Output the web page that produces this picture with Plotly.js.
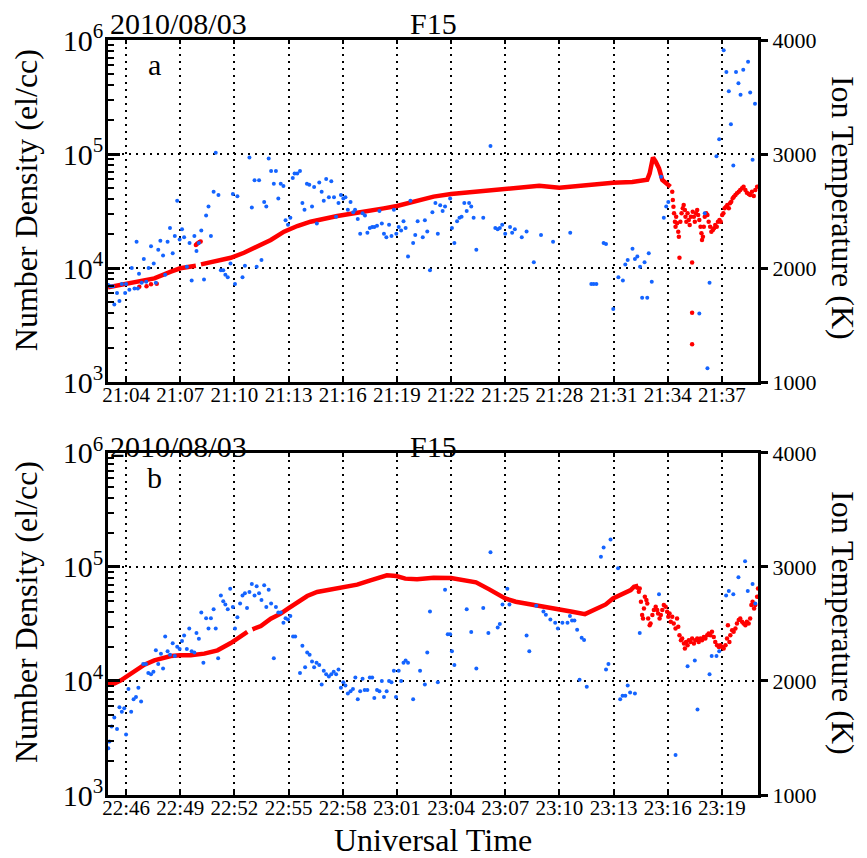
<!DOCTYPE html>
<html><head><meta charset="utf-8">
<script src="https://cdn.plot.ly/plotly-3.0.1.min.js"></script>
<style>html,body{margin:0;padding:0;background:#fff}#chart{width:867px;height:858px}</style>
</head><body><div id="chart"></div>
<script>
const DAY = '2010-08-03 ';
const dateLabel = '2010/08/03';
const satellite = 'F15';

// ---------- Panel a (21:03 - 21:39 UT) ----------
// density, smooth part (el/cc)
const aLineT = ['21:03:00','21:04:00','21:04:39','21:05:34','21:06:29','21:07:00','21:07:52','21:08:00','21:08:09','21:08:53',
  '21:09:48','21:10:32','21:11:16','21:12:01','21:12:45','21:13:29','21:14:13','21:14:57','21:15:42','21:16:48',
  '21:17:32','21:18:16','21:19:00','21:19:44','21:20:29','21:21:02','21:22:00','21:23:34','21:25:00','21:26:53',
  '21:28:00','21:29:17','21:30:58','21:32:02','21:32:52','21:33:00','21:33:11','21:33:20','21:33:31','21:33:42',
  '21:33:55','21:34:09'];
const aLineN = [6760,7240,7590,8110,9290,9940,10470,null,10770,11350,
  12300,13610,15370,17610,20840,23350,25470,27050,28560,30530,
  31600,33360,34970,37420,40060,42290,44570,46730,48980,52720,
  50720,53080,56070,56800,59540,67600,93500,85700,74830,59190,
  55350,51670];
// density, scattered samples
const aDotT = ['21:04:44','21:05:08','21:05:23','21:05:42','21:07:52','21:07:56','21:08:00','21:08:04','21:08:08',
  '21:34:15','21:34:17','21:34:19','21:34:21','21:34:24','21:34:26','21:34:28','21:34:31','21:34:35','21:34:37',
  '21:34:39','21:34:42','21:34:46','21:34:50','21:34:53','21:34:57','21:34:59','21:35:02','21:35:06','21:35:10',
  '21:35:13','21:35:17','21:35:21','21:35:21','21:35:21','21:35:23','21:35:27','21:35:30','21:35:34','21:35:38',
  '21:35:41','21:35:45','21:35:49','21:35:52','21:35:54','21:35:57','21:36:00','21:36:03','21:36:08','21:36:12',
  '21:36:16','21:36:21','21:36:25','21:36:30','21:36:34','21:36:38','21:36:43','21:36:47','21:36:52','21:36:56',
  '21:37:01','21:37:05','21:37:09','21:37:14','21:37:18','21:37:23','21:37:27','21:37:31','21:37:36','21:37:40',
  '21:37:45','21:37:50','21:37:56','21:38:01','21:38:07','21:38:12','21:38:18','21:38:23','21:38:29','21:38:34',
  '21:38:40','21:38:46','21:38:51','21:38:57'];
const aDotN = [6860,6930,7210,7290,15900,16300,16600,16900,17100,
  46740,39460,34490,30170,25490,23050,28210,24640,20830,18830,
  12330,25490,30170,33370,35700,32290,28210,25490,30170,26360,
  23840,28210,11150,4060,2140,31200,28210,25490,30170,32290,
  29180,26360,23050,20140,17610,18830,23050,28210,30170,29180,
  25490,23050,20830,21540,22290,23840,23050,25490,26360,25490,
  29180,30170,33370,34490,35700,33370,36900,38160,40860,42240,
  43680,45170,46740,48310,49960,51670,48310,45810,44600,43680,
  46740,42830,48310,51670];
// ion temperature (K)
const aTempT = ['21:03:01','21:03:08','21:03:16','21:03:21','21:03:30','21:03:38','21:03:46','21:03:57','21:04:00','21:04:11',
  '21:04:19','21:04:28','21:04:35','21:04:39','21:04:43','21:04:52','21:04:59','21:05:07','21:05:15','21:05:23',
  '21:05:32','21:05:39','21:05:47','21:05:54','21:06:03','21:06:10','21:06:18','21:06:26','21:06:35','21:06:42',
  '21:06:50','21:06:58','21:07:06','21:07:13','21:07:22','21:07:31','21:07:38','21:07:47','21:07:54','21:08:02',
  '21:08:10','21:08:19','21:08:26','21:08:34','21:08:42','21:08:51','21:08:58','21:09:07','21:09:15','21:09:23',
  '21:09:30','21:09:38','21:09:47','21:09:55','21:10:02','21:10:10','21:10:27','21:10:35','21:10:50','21:10:58',
  '21:11:07','21:11:14','21:11:22','21:11:30','21:11:39','21:11:46','21:11:54','21:12:02','21:12:11','21:12:18',
  '21:12:26','21:12:34','21:12:43','21:12:50','21:12:58','21:13:06','21:13:14','21:13:20','21:13:29','21:13:38',
  '21:13:46','21:13:53','21:14:01','21:14:09','21:14:18','21:14:25','21:14:34','21:14:42','21:14:50','21:14:57',
  '21:15:05','21:15:14','21:15:22','21:15:31','21:15:38','21:15:46','21:15:54','21:16:02','21:16:09','21:16:17',
  '21:16:26','21:16:35','21:16:41','21:16:50','21:16:58','21:17:06','21:17:14','21:17:22','21:17:30','21:17:38',
  '21:17:45','21:17:54','21:18:02','21:18:10','21:18:17','21:18:25','21:18:34','21:18:42','21:18:50','21:18:58',
  '21:19:06','21:19:14','21:19:22','21:19:29','21:19:37','21:19:45','21:19:54','21:20:01','21:20:09','21:20:26',
  '21:20:33','21:20:41','21:20:50','21:20:58',
  '21:21:08','21:21:16','21:21:24','21:21:32','21:21:40','21:21:57','21:22:03','21:22:11','21:22:20','21:22:28',
  '21:22:35','21:22:44','21:22:52','21:23:00','21:23:07','21:23:15','21:23:24','21:23:47','21:24:11','21:24:27',
  '21:24:35','21:24:42','21:24:50','21:25:00','21:25:16','21:25:23','21:25:32','21:25:55','21:26:11','21:26:35',
  '21:26:59','21:27:39','21:28:36','21:29:46','21:29:54','21:30:03','21:30:27','21:30:35','21:30:59','21:31:16',
  '21:31:31','21:31:39','21:31:47','21:32:03','21:32:11','21:32:19','21:32:28','21:32:35','21:32:43','21:32:52',
  '21:32:57','21:33:07','21:33:38','21:33:47','21:33:55','21:34:02','21:35:45','21:36:03','21:36:12','21:36:19',
  '21:36:42','21:36:51','21:37:06','21:37:15','21:37:23','21:37:30','21:37:38','21:37:47','21:37:55','21:38:02',
  '21:38:11','21:38:27','21:38:34','21:38:42','21:38:50'];
const aTempK = [1850,1840,1840,1680,1780,1710,1860,1780,1860,1810,
  2000,1820,2230,1820,1950,1870,2080,1880,2000,2190,
  2040,1870,2160,2240,2110,1940,2230,2350,2130,2280,
  2590,2250,2340,2270,2010,2220,1890,2280,2150,2220,
  2330,1900,2460,2540,2280,2670,3010,2640,1980,1980,
  1940,1920,2040,2650,1860,2630,1920,2020,2970,2530,
  2770,2010,2770,2070,2580,2540,2960,2850,2740,2850,
  2610,2740,2720,2420,2380,2440,2790,2830,2830,2850,
  2570,2510,2740,2730,2540,2710,2390,2750,2670,2590,
  2780,2620,2760,2620,2450,2570,2640,2610,2620,2510,
  2580,2490,2510,2430,2300,2480,2460,2310,2350,2360,
  2360,2370,2500,2390,2300,2270,2380,2280,2510,2300,
  2360,2330,2410,2350,2100,2590,2220,2290,2410,2270,
  2420,2320,1980,2490,
  2570,2300,2550,2500,2540,2610,2350,2220,2410,2440,
  2450,2570,2500,2570,2540,2440,2160,2440,3070,2350,
  2340,2350,2380,2300,2360,2310,2340,2270,2320,2050,
  2290,2230,2310,1860,1860,1860,2220,2210,1640,1920,
  1890,2030,2070,2170,2080,2100,2010,1740,2050,1740,
  2130,1880,2800,2440,2540,2580,1600,2480,1120,1870,
  2980,3130,3910,3720,3550,3260,2900,3720,3620,3520,
  3740,3810,3540,2950,3440];

// ---------- Panel b (22:45 - 23:21 UT) ----------
const bLineT = ['22:45:00','22:45:21','22:45:43','22:46:00','22:46:17','22:46:39','22:47:01','22:47:34','22:48:07','22:48:29',
  '22:49:00','22:49:35','22:50:20','22:51:04','22:51:48','22:52:21','22:52:43','22:52:50','22:53:00','22:53:28',
  '22:54:01','22:54:34','22:54:58','22:55:29','22:56:02','22:56:35','22:57:20','22:57:58','22:58:48','22:59:32',
  '23:00:05','23:00:27','23:00:58','23:01:28','23:02:07','23:03:02','23:04:00','23:04:39','23:05:23','23:06:07',
  '23:07:00','23:07:35','23:08:20','23:09:04','23:09:59','23:10:43','23:11:25','23:12:01','23:12:34','23:12:58',
  '23:13:29','23:13:57','23:14:08','23:14:22'];
const bLineN = [9360,9480,10130,10840,11590,12650,13900,15180,16130,16570,
  16790,16790,17370,18580,21540,24820,26920,null,28400,30380,
  35230,38980,43160,49350,55660,60380,63270,65480,69990,76400,
  82280,84500,83400,79050,78000,80600,79960,77450,73300,63630,
  53000,49540,46960,44800,42150,40480,38610,42690,46960,53000,
  57870,62770,67150,68490];
const bDotT = ['23:14:19','23:14:24','23:14:27','23:14:31','23:14:35','23:14:38','23:14:41','23:14:44','23:14:49','23:14:52',
  '23:14:55','23:15:00','23:15:03','23:15:09','23:15:14','23:15:20','23:15:25','23:15:28','23:15:33','23:15:37',
  '23:15:42','23:15:47','23:15:53','23:15:58','23:16:02','23:16:06','23:16:10','23:16:15','23:16:20','23:16:26',
  '23:16:31','23:16:35','23:16:39','23:16:44','23:16:48','23:16:54','23:16:57','23:17:01','23:17:06','23:17:10',
  '23:17:16','23:17:21','23:17:27','23:17:32','23:17:38','23:17:43','23:17:49','23:17:54','23:18:00','23:18:05',
  '23:18:11','23:18:16','23:18:22','23:18:27','23:18:33','23:18:38','23:18:44','23:18:50','23:18:55','23:19:01',
  '23:19:06','23:19:12','23:19:17','23:19:20','23:19:25','23:19:28','23:19:34','23:19:39','23:19:45','23:19:50',
  '23:19:56','23:20:01','23:20:07','23:20:12','23:20:18','23:20:23','23:20:29','23:20:34','23:20:38','23:20:42',
  '23:20:47','23:20:51','23:20:57','23:21:00'];
const bDotN = [65770,60690,64890,49540,37850,35350,43270,54830,51250,47860,
  35350,30900,31930,37850,41870,44770,41870,39070,35350,37850,
  41870,46370,44770,40440,36560,39070,33040,36560,31930,28850,
  35350,29850,25230,22800,23560,21280,19230,22030,20600,22800,
  22030,23560,21280,22800,23560,22030,23560,22800,24370,23560,
  25230,26080,25230,26970,24370,22030,20600,19910,20600,19910,
  19230,20600,23560,30900,22030,25230,27930,26970,28850,31930,
  34200,35350,33040,31930,30900,33040,31930,35350,46370,49540,
  43270,46370,54830,64890];
const bTempT = ['22:45:01','22:45:05','22:45:12','22:45:21','22:45:30','22:45:38','22:45:46','22:45:54','22:46:00','22:46:08',
  '22:46:17','22:46:25','22:46:33','22:46:41','22:46:50','22:46:57','22:47:06','22:47:14','22:47:23','22:47:31',
  '22:47:39','22:47:47','22:47:56','22:48:03','22:48:10','22:48:18','22:48:26','22:48:35','22:48:42','22:48:50',
  '22:48:58','22:49:06','22:49:13','22:49:22','22:49:30','22:49:38','22:49:47','22:49:54','22:50:02','22:50:10',
  '22:50:17','22:50:26','22:50:34','22:50:42','22:50:51','22:50:58','22:51:06','22:51:15','22:51:23','22:51:30',
  '22:51:38','22:51:46','22:51:55','22:52:02','22:52:10','22:52:19','22:52:27','22:52:35','22:52:42','22:52:50',
  '22:52:58','22:53:07','22:53:14','22:53:22','22:53:30','22:53:39','22:53:46','22:53:54','22:54:02','22:54:11',
  '22:54:18','22:54:26','22:54:34','22:54:43','22:54:50','22:54:58','22:55:06','22:55:15','22:55:22','22:55:38',
  '22:55:46','22:55:55','22:56:02','22:56:10','22:56:18','22:56:25','22:56:33','22:56:42','22:56:50','22:56:57',
  '22:57:05','22:57:14','22:57:22','22:57:30','22:57:38','22:57:46','22:57:54','22:58:02','22:58:09','22:58:17',
  '22:58:26','22:58:34','22:58:42','22:58:50','22:58:58','22:59:06','22:59:13','22:59:22','22:59:30','22:59:38',
  '22:59:45','22:59:54','23:00:02','23:00:10','23:00:17','23:00:26','23:00:34','23:00:42','23:00:50','23:00:57',
  '23:01:06','23:01:14','23:01:22','23:01:29','23:01:37','23:01:54','23:02:17','23:02:33','23:02:41','23:02:50',
  '23:03:16','23:03:40','23:03:49','23:03:57','23:04:03','23:04:11','23:04:52','23:05:07','23:05:24','23:05:47',
  '23:06:04','23:06:11','23:06:35','23:06:42','23:06:51','23:07:07','23:07:14','23:08:11','23:08:20','23:08:43',
  '23:09:07','23:09:15','23:09:30','23:09:46','23:09:55','23:10:10','23:10:27','23:10:35','23:10:42','23:10:50',
  '23:10:59','23:11:07','23:11:14','23:11:22','23:11:31','23:12:18','23:12:27','23:12:35','23:12:43','23:12:50',
  '23:13:15','23:13:22','23:13:30','23:13:39','23:13:47','23:13:55','23:14:11','23:14:27','23:15:31','23:16:26',
  '23:17:06','23:17:30','23:17:39','23:18:19','23:18:26','23:18:42','23:18:51','23:19:14','23:19:23','23:19:38',
  '23:19:55','23:20:17','23:20:26','23:20:42','23:20:51'];
const bTempK = [1410,1470,1600,1680,1580,1770,1730,1760,1530,1930,
  1730,1840,1860,1940,1820,2150,2150,2070,2060,2080,
  2270,2150,2240,2110,2390,2260,2230,2330,2220,2300,
  2280,2350,2400,2280,2460,2260,2250,2420,2370,2600,
  2160,2550,2460,2550,2630,2460,2200,2750,2700,2670,
  2630,2810,2650,2460,2560,2680,2750,2770,2640,2780,
  2850,2750,2830,2770,2710,2840,2650,2800,2680,2200,
  2650,2600,2600,2510,2550,2540,2570,2390,2390,2070,
  2310,2120,2250,2230,2170,2120,2160,2140,1970,2090,
  2060,2040,2060,2080,2060,2100,1940,1990,1960,1890,
  1910,1930,2030,1840,1910,2020,1920,1920,2030,2030,
  1850,1920,1910,2000,1860,1910,2000,1990,2090,1860,
  2090,2000,2160,2180,2160,1840,2090,1970,2250,2610,
  1990,2800,2410,2410,2260,2140,2630,2430,2110,2640,
  2420,3130,2470,2500,2670,2810,2670,2400,2260,2660,
  2610,2580,2540,2510,2460,2510,2510,2570,2530,2530,
  2450,2010,2380,2360,1950,3090,3170,2100,2150,3240,
  2990,1840,1870,1870,1960,1900,1890,2420,2760,1350,
  2130,2180,1750,2060,2220,2220,2260,2750,2790,2760,
  2910,3050,2790,2850,2680];

const RED = '#ff0000', BLUE = '#1464ff';
const FONT = 'Liberation Serif';
const ts = a => a.map(t => DAY + t);

const traces = [
  {x: ts(aLineT), y: aLineN, xaxis: 'x', yaxis: 'y', mode: 'lines', line: {color: RED, width: 4.5}, connectgaps: false},
  {x: ts(aDotT), y: aDotN, xaxis: 'x', yaxis: 'y', mode: 'markers', marker: {color: RED, size: 4.5}},
  {x: ts(aTempT), y: aTempK, xaxis: 'x', yaxis: 'y2', mode: 'markers', marker: {color: BLUE, size: 4}},
  {x: ts(bLineT), y: bLineN, xaxis: 'x2', yaxis: 'y3', mode: 'lines', line: {color: RED, width: 4.5}, connectgaps: false},
  {x: ts(bDotT), y: bDotN, xaxis: 'x2', yaxis: 'y3', mode: 'markers', marker: {color: RED, size: 4.5}},
  {x: ts(bTempT), y: bTempK, xaxis: 'x2', yaxis: 'y4', mode: 'markers', marker: {color: BLUE, size: 4}}
];

const GRID = {showgrid: true, gridcolor: '#000', gridwidth: 2, griddash: '2px,5px'};
function xAx(anchor, t0, t1, tick0) {
  return Object.assign({type: 'date', anchor: anchor, domain: [0, 1], range: [DAY + t0, DAY + t1],
    tick0: DAY + tick0, dtick: 180000, tickformat: '%H:%M', ticks: 'inside', ticklen: 4, tickwidth: 2,
    tickcolor: '#000', showline: true, linewidth: 3, linecolor: '#000', mirror: 'ticks',
    ticklabelstandoff: -8,
    zeroline: false, tickfont: {size: 21, color: '#000', family: FONT}}, GRID);
}
function logAx(anchor, dom) {
  return Object.assign({type: 'log', anchor: anchor, domain: dom, range: [3, 6], dtick: 1,
    exponentformat: 'power', ticks: 'inside', ticklen: 12, tickwidth: 3, tickcolor: '#000',
    showline: true, linewidth: 3, linecolor: '#000', zeroline: false, ticklabelstandoff: -3,
    minor: {ticks: 'inside', ticklen: 6, tickwidth: 2, tickcolor: '#000', dtick: 'D1', showgrid: false},
    tickfont: {size: 24, color: '#000', family: FONT}}, GRID);
}
function tempAx(anchor, over) {
  return {overlaying: over, side: 'right', anchor: anchor, range: [1000, 4000], dtick: 1000,
    ticks: 'outside', ticklen: 7, tickwidth: 3, tickcolor: '#000', showline: true, linewidth: 3,
    linecolor: '#000', showgrid: false, zeroline: false, tickfont: {size: 22, color: '#000', family: FONT}};
}
function stubLeft(anchor, over) {
  return {overlaying: over, side: 'left', anchor: anchor, type: 'log', range: [3, 6], dtick: 1,
    ticks: 'outside', ticklen: 6, tickwidth: 3, tickcolor: '#000', showticklabels: false,
    showline: false, showgrid: false, zeroline: false};
}
function stubRight(anchor, over) {
  return {overlaying: over, side: 'right', anchor: anchor, range: [1000, 4000], dtick: 1000,
    ticks: 'inside', ticklen: 12, tickwidth: 3, tickcolor: '#000', showticklabels: false,
    showline: false, showgrid: false, zeroline: false};
}

const ann = (text, x, y, size, extra) => Object.assign({text: text, xref: 'paper', yref: 'paper', x: x, y: y,
  xanchor: 'center', yanchor: 'middle', showarrow: false, font: {size: size, color: '#000', family: FONT}}, extra || {});

const layout = {
  width: 867, height: 858,
  margin: {l: 108, r: 109, t: 40, b: 63},
  paper_bgcolor: '#fff', plot_bgcolor: '#fff',
  showlegend: false, hovermode: false,
  font: {family: FONT, color: '#000'},
  xaxis: xAx('y', '21:03:00', '21:39:00', '21:04:00'),
  xaxis2: xAx('y3', '22:45:00', '23:21:00', '22:46:00'),
  yaxis: logAx('x', [0.547, 1]),
  yaxis2: tempAx('x', 'y'),
  yaxis3: logAx('x2', [0, 0.453]),
  yaxis4: tempAx('x2', 'y3'),
  yaxis5: stubLeft('x', 'y'),
  yaxis6: stubRight('x', 'y'),
  yaxis7: stubLeft('x2', 'y3'),
  yaxis8: stubRight('x2', 'y3'),
  annotations: [
    ann(dateLabel, 0, 1.0221, 30, {xanchor: 'left'}),
    ann(satellite, 0.5015, 1.0221, 30),
    ann('a', 0.0723, 0.968, 30),
    ann(dateLabel, 0, 0.4614, 30, {xanchor: 'left'}),
    ann(satellite, 0.5015, 0.4614, 30),
    ann('b', 0.0723, 0.4199, 30),
    ann('Number Density (el/cc)', -0.126, 0.788, 32, {textangle: -90}),
    ann('Number Density (el/cc)', -0.126, 0.2424, 32, {textangle: -90}),
    ann('Ion Temperature (K)', 1.1308, 0.7775, 32, {textangle: 90}),
    ann('Ion Temperature (K)', 1.1308, 0.2278, 32, {textangle: 90}),
    ann('Universal Time', 0.5, -0.0596, 32)
  ]
};

Plotly.newPlot('chart', traces, layout, {displayModeBar: false, staticPlot: true});
</script></body></html>
